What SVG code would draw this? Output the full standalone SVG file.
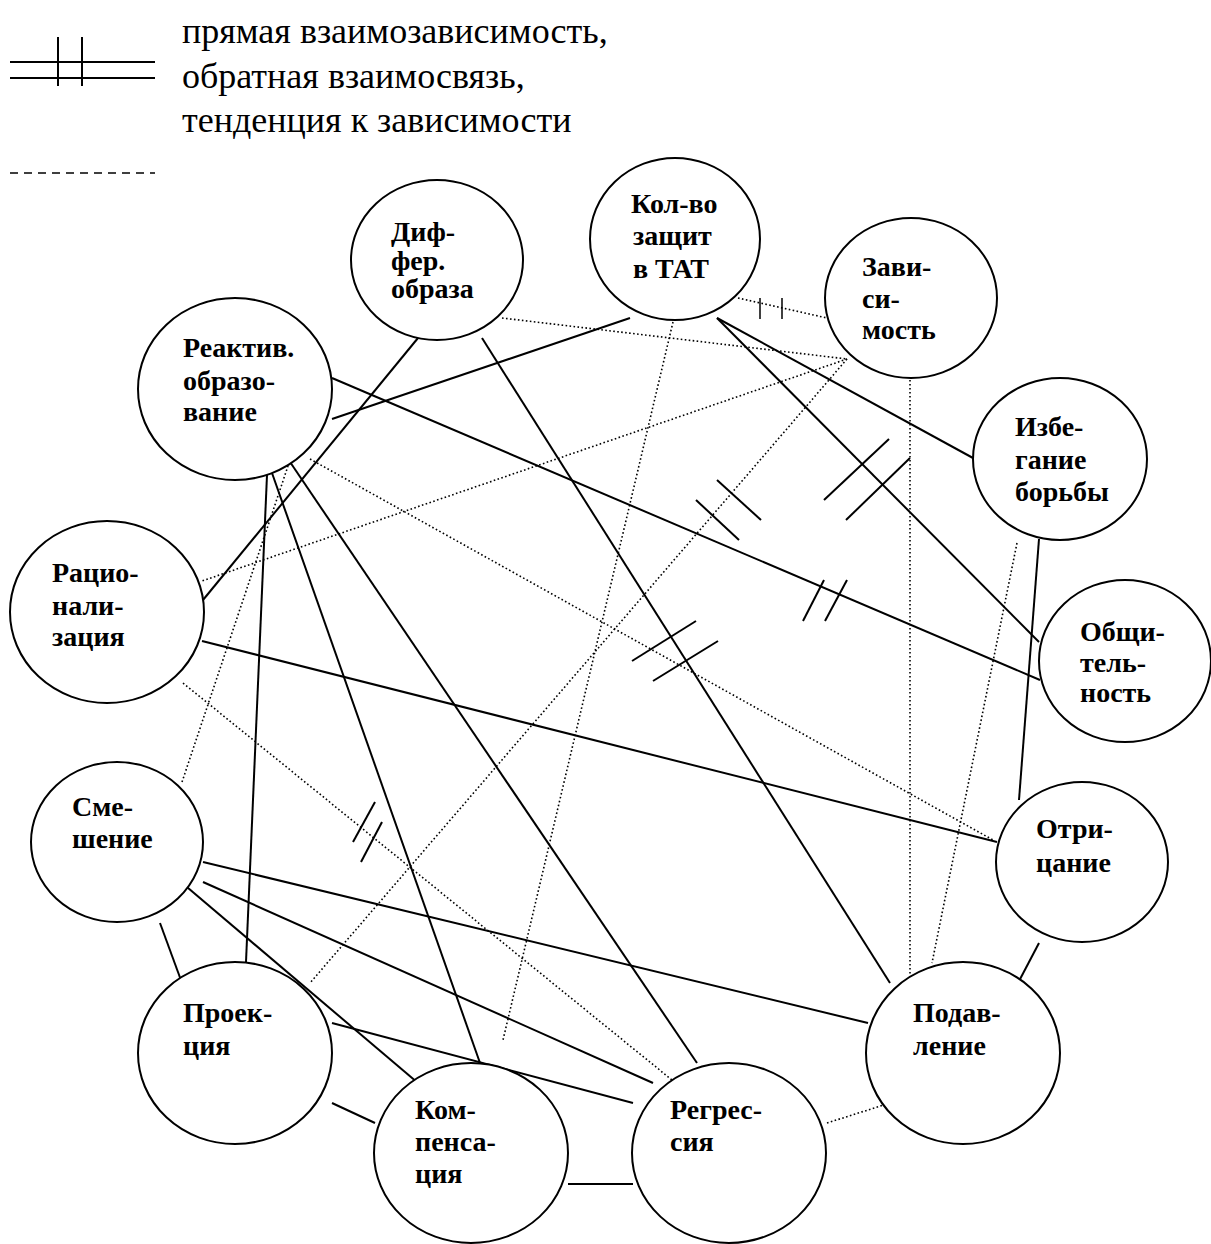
<svg xmlns="http://www.w3.org/2000/svg" width="1211" height="1244" viewBox="0 0 1211 1244">
  <style>
    .bg { fill: #ffffff; }
    .node ellipse { fill: #ffffff; stroke: #000000; stroke-width: 2; }
    .node text { font-family: "Liberation Serif", "Times New Roman", serif; font-weight: bold; font-size: 28px; fill: #000000; }
    .legend-text { font-family: "Liberation Serif", "Times New Roman", serif; font-size: 36px; fill: #000000; }
    .solid { stroke: #000000; stroke-width: 2; fill: none; }
    .dotted { stroke: #000000; stroke-width: 1.6; stroke-dasharray: 1.6 2.4; fill: none; }
    .tick { stroke: #000000; stroke-width: 2; }
    .thin-tick { stroke: #000000; stroke-width: 1.5; }
    .dash { stroke: #000000; stroke-width: 1.6; stroke-dasharray: 8 6; }
  </style>
  <rect class="bg" x="0" y="0" width="1211" height="1244"/>

  <!-- legend -->
  <g id="legend">
    <line class="solid" x1="10" y1="62" x2="155" y2="62"/>
    <line class="solid" x1="10" y1="78" x2="155" y2="78"/>
    <line class="solid" x1="58" y1="37" x2="58" y2="86"/>
    <line class="solid" x1="82" y1="37" x2="82" y2="86"/>
    <line class="dash" x1="10" y1="173" x2="155" y2="173"/>
    <text class="legend-text" x="182" y="43">прямая взаимозависимость,</text>
    <text class="legend-text" x="182" y="88">обратная взаимосвязь,</text>
    <text class="legend-text" x="182" y="132">тенденция к зависимости</text>
  </g>

  <!-- connectors -->
  <g id="connectors">
    <!-- solid links -->
    <line class="solid" x1="418" y1="338" x2="203" y2="600"/>
    <line class="solid" x1="332" y1="419" x2="630" y2="318"/>
    <line class="solid" x1="482" y1="338" x2="890" y2="983"/>
    <line class="solid" x1="717" y1="318" x2="973" y2="458"/>
    <line class="solid" x1="717" y1="318" x2="1039" y2="642"/>
    <line class="solid" x1="332" y1="378" x2="1040" y2="680"/>
    <line class="solid" x1="267" y1="475" x2="246" y2="962"/>
    <line class="solid" x1="272" y1="473" x2="480" y2="1063"/>
    <line class="solid" x1="288" y1="459" x2="697" y2="1063"/>
    <line class="solid" x1="202" y1="641" x2="997" y2="842"/>
    <line class="solid" x1="1039" y1="539" x2="1019" y2="800"/>
    <line class="solid" x1="203" y1="862" x2="868" y2="1023"/>
    <line class="solid" x1="203" y1="882" x2="653" y2="1083"/>
    <line class="solid" x1="181" y1="882" x2="418" y2="1083"/>
    <line class="solid" x1="160" y1="923" x2="182" y2="983"/>
    <line class="solid" x1="332" y1="1023" x2="633" y2="1103"/>
    <line class="solid" x1="332" y1="1103" x2="375" y2="1123"/>
    <line class="solid" x1="568" y1="1184" x2="633" y2="1184"/>
    <line class="solid" x1="1039" y1="943" x2="1018" y2="983"/>

    <!-- dotted links -->
    <line class="dotted" x1="738" y1="298" x2="827" y2="318"/>
    <line class="dotted" x1="502" y1="318" x2="847" y2="359"/>
    <line class="dotted" x1="847" y1="359" x2="202" y2="581"/>
    <line class="dotted" x1="847" y1="359" x2="310" y2="983"/>
    <line class="dotted" x1="673" y1="322" x2="503" y2="1040"/>
    <line class="dotted" x1="310" y1="459" x2="993" y2="840"/>
    <line class="dotted" x1="182" y1="782" x2="288" y2="466"/>
    <line class="dotted" x1="910" y1="380" x2="910" y2="983"/>
    <line class="dotted" x1="1017" y1="543" x2="932" y2="963"/>
    <line class="dotted" x1="827" y1="1123" x2="890" y2="1103"/>
    <line class="dotted" x1="183" y1="683" x2="672" y2="1080"/>

    <!-- double-stroke marks -->
    <line class="thin-tick" x1="760" y1="298" x2="760" y2="319"/>
    <line class="thin-tick" x1="782" y1="298" x2="782" y2="319"/>
    <line class="tick" x1="824" y1="500" x2="889" y2="439"/>
    <line class="tick" x1="846" y1="520" x2="910" y2="458"/>
    <line class="tick" x1="803" y1="621" x2="824" y2="580"/>
    <line class="tick" x1="825" y1="621" x2="847" y2="580"/>
    <line class="tick" x1="696" y1="500" x2="739" y2="540"/>
    <line class="tick" x1="717" y1="480" x2="761" y2="520"/>
    <line class="tick" x1="632" y1="661" x2="696" y2="621"/>
    <line class="tick" x1="653" y1="681" x2="718" y2="641"/>
    <line class="tick" x1="353" y1="842" x2="375" y2="802"/>
    <line class="tick" x1="361" y1="862" x2="382" y2="822"/>
  </g>

  <!-- nodes -->
  <g id="node-diff" class="node">
    <ellipse cx="437" cy="260" rx="86" ry="80"/>
    <text x="391" y="241">Диф-</text>
    <text x="391" y="270">фер.</text>
    <text x="391" y="298">образа</text>
  </g>
  <g id="node-kolvo" class="node">
    <ellipse cx="675" cy="239" rx="85" ry="81"/>
    <text x="631" y="213">Кол-во</text>
    <text x="633" y="245">защит</text>
    <text x="633" y="278">в ТАТ</text>
  </g>
  <g id="node-zavisimost" class="node">
    <ellipse cx="911" cy="298" rx="86" ry="80"/>
    <text x="862" y="276">Зави-</text>
    <text x="862" y="308">си-</text>
    <text x="862" y="339">мость</text>
  </g>
  <g id="node-reaktiv" class="node">
    <ellipse cx="235" cy="389" rx="97" ry="91"/>
    <text x="183" y="357">Реактив.</text>
    <text x="183" y="390">образо-</text>
    <text x="183" y="421">вание</text>
  </g>
  <g id="node-izbeganie" class="node">
    <ellipse cx="1060" cy="459" rx="87" ry="81"/>
    <text x="1015" y="436">Избе-</text>
    <text x="1015" y="469">гание</text>
    <text x="1015" y="501">борьбы</text>
  </g>
  <g id="node-racio" class="node">
    <ellipse cx="107" cy="612" rx="97" ry="91"/>
    <text x="52" y="582">Рацио-</text>
    <text x="52" y="615">нали-</text>
    <text x="52" y="646">зация</text>
  </g>
  <g id="node-obshch" class="node">
    <ellipse cx="1125" cy="661" rx="86" ry="81"/>
    <text x="1080" y="641">Общи-</text>
    <text x="1080" y="672">тель-</text>
    <text x="1080" y="702">ность</text>
  </g>
  <g id="node-otricanie" class="node">
    <ellipse cx="1082" cy="862" rx="86" ry="80"/>
    <text x="1036" y="838">Отри-</text>
    <text x="1036" y="872">цание</text>
  </g>
  <g id="node-smeshenie" class="node">
    <ellipse cx="117" cy="842" rx="86" ry="80"/>
    <text x="72" y="816">Сме-</text>
    <text x="72" y="848">шение</text>
  </g>
  <g id="node-proekciya" class="node">
    <ellipse cx="235" cy="1053" rx="97" ry="91"/>
    <text x="183" y="1022">Проек-</text>
    <text x="183" y="1055">ция</text>
  </g>
  <g id="node-podavlenie" class="node">
    <ellipse cx="963" cy="1053" rx="97" ry="91"/>
    <text x="913" y="1022">Подав-</text>
    <text x="913" y="1055">ление</text>
  </g>
  <g id="node-kompensaciya" class="node">
    <ellipse cx="471" cy="1153" rx="97" ry="90"/>
    <text x="415" y="1119">Ком-</text>
    <text x="415" y="1151">пенса-</text>
    <text x="415" y="1183">ция</text>
  </g>
  <g id="node-regressiya" class="node">
    <ellipse cx="729" cy="1153" rx="97" ry="90"/>
    <text x="670" y="1119">Регрес-</text>
    <text x="670" y="1151">сия</text>
  </g>
</svg>
